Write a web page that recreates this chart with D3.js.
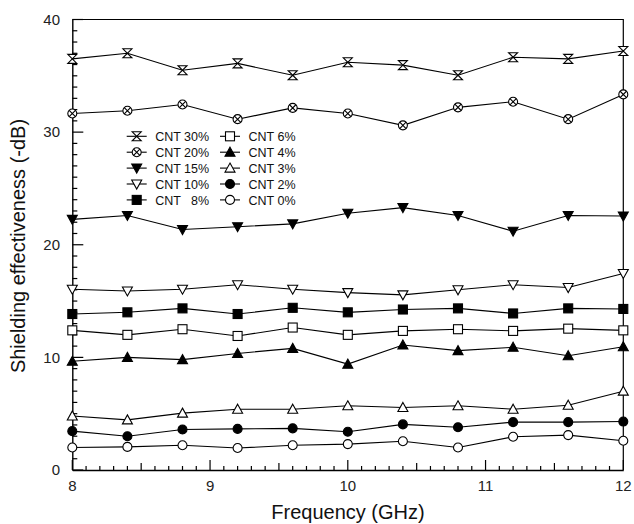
<!DOCTYPE html>
<html><head><meta charset="utf-8">
<script src="https://cdn.jsdelivr.net/npm/d3@7"></script>
<style>
html,body{margin:0;padding:0;background:#fff;}
svg{display:block;font-family:"Liberation Sans",Arial,sans-serif;}
</style></head>
<body><svg id="c" width="634" height="524"></svg>
<script>
const freq = [8, 8.4, 8.8, 9.2, 9.6, 10, 10.4, 10.8, 11.2, 11.6, 12];
const cnt30 = [36.5, 37.0, 35.5, 36.1, 35.05, 36.2, 35.95, 35.05, 36.65, 36.5, 37.2];
const cnt20 = [31.65, 31.9, 32.45, 31.15, 32.15, 31.65, 30.6, 32.2, 32.7, 31.15, 33.35];
const cnt15 = [22.25, 22.6, 21.35, 21.6, 21.85, 22.8, 23.3, 22.6, 21.2, 22.6, 22.55];
const cnt10 = [16.05, 15.9, 16.05, 16.45, 16.05, 15.75, 15.55, 16.0, 16.45, 16.2, 17.45];
const cnt8  = [13.85, 14.0, 14.35, 13.85, 14.4, 14.0, 14.25, 14.35, 13.9, 14.35, 14.3];
const cnt6  = [12.4, 12.0, 12.5, 11.9, 12.65, 12.0, 12.35, 12.5, 12.35, 12.55, 12.4];
const cnt4  = [9.65, 10.0, 9.8, 10.35, 10.8, 9.4, 11.1, 10.6, 10.9, 10.15, 10.95];
const cnt3  = [4.8, 4.45, 5.05, 5.4, 5.4, 5.7, 5.55, 5.7, 5.4, 5.75, 7.0];
const cnt2  = [3.45, 3.0, 3.6, 3.65, 3.7, 3.4, 4.05, 3.8, 4.25, 4.25, 4.3];
const cnt0  = [2.0, 2.05, 2.2, 1.95, 2.2, 2.3, 2.55, 2.0, 2.95, 3.1, 2.6];
const seriesNames = ["CNT 30%","CNT 20%","CNT 15%","CNT 10%","CNT   8%","CNT 6%","CNT 4%","CNT 3%","CNT 2%","CNT 0%"];
const seriesValues = [cnt30, cnt20, cnt15, cnt10, cnt8, cnt6, cnt4, cnt3, cnt2, cnt0];
const markerKinds = ["hourglass","circlex","tridownFilled","tridownOpen","squareFilled","squareOpen","triupFilled","triupOpen","circleFilled","circleOpen"];
const xTicks = [8, 9, 10, 11, 12];
const yTicks = [0, 10, 20, 30, 40];
const xTitle = "Frequency (GHz)";
const yTitle = "Shielding effectiveness (-dB)";

const svg = d3.select("#c");
const L = 72.3, R = 623.3, T = 19.5, B = 470;
const x = d3.scaleLinear().domain([8, 12]).range([L, R]);
const y = d3.scaleLinear().domain([0, 40]).range([B, T]);

// frame
svg.append("path").attr("d", `M${L},${T}H${R}V${B}`).attr("fill","none").attr("stroke","#000").attr("stroke-width",1.2);

// x axis
const xMinor = d3.range(80, 121).map(d => d/10);
const xAx = svg.append("g").attr("transform",`translate(0,${B})`);
xAx.call(d3.axisBottom(x).tickValues(xMinor).tickSize(0).tickFormat(""));
xAx.select(".domain").attr("stroke","#000").attr("stroke-width",1.4);
xAx.selectAll(".tick").remove();
xMinor.forEach(v => {
  const r = Math.round(v*10);
  const len = r % 10 === 0 ? 10 : (r % 5 === 0 ? 7 : 4);
  xAx.append("line").attr("x1", x(v)).attr("x2", x(v)).attr("y1", 0).attr("y2", -len).attr("stroke","#000").attr("stroke-width",1.2);
});
svg.append("g").selectAll("text").data(xTicks).join("text")
  .attr("x", d => x(d)).attr("y", 491).attr("text-anchor","middle")
  .attr("font-size", 15).attr("fill","#222").text(d => d);

// y axis
const yMinor = d3.range(0, 41);
const yAx = svg.append("g").attr("transform",`translate(${L},0)`);
yAx.call(d3.axisLeft(y).tickValues(yMinor).tickSize(0).tickFormat(""));
yAx.select(".domain").attr("stroke","#000").attr("stroke-width",1.4);
yAx.selectAll(".tick").remove();
yMinor.forEach(v => {
  const len = v % 10 === 0 ? 11 : 5;
  yAx.append("line").attr("x1", 0).attr("x2", len).attr("y1", y(v)).attr("y2", y(v)).attr("stroke","#000").attr("stroke-width",1.2);
});
svg.append("g").selectAll("text").data(yTicks).join("text")
  .attr("x", 60).attr("y", d => y(d) + 5.3).attr("text-anchor","end")
  .attr("font-size", 15).attr("fill","#222").text(d => d);

// titles
svg.append("text").attr("x", 348).attr("y", 519).attr("text-anchor","middle")
  .attr("font-size", 20).attr("fill","#111").text(xTitle);
svg.append("text").attr("transform","translate(25,246) rotate(-90)").attr("text-anchor","middle")
  .attr("font-size", 20).attr("fill","#111").text(yTitle);

// marker drawing
function drawMarker(g, kind, cx, cy) {
  const s = 4.5;
  const m = g.append("g").attr("transform", `translate(${cx},${cy})`);
  const st = sel => sel.attr("stroke","#000").attr("stroke-width",1.1);
  if (kind === "hourglass") {
    st(m.append("path").attr("d", `M${-s},${-s}H${s}L${-s},${s}H${s}Z`).attr("fill","#fff"));
  } else if (kind === "circlex") {
    st(m.append("circle").attr("r", s).attr("fill","#fff"));
    const k = s*0.7;
    st(m.append("path").attr("d", `M${-k},${-k}L${k},${k}M${-k},${k}L${k},${-k}`).attr("fill","none"));
  } else if (kind === "tridownFilled" || kind === "tridownOpen") {
    st(m.append("path").attr("d", `M${-5},${-4}H5L0,5Z`).attr("fill", kind === "tridownFilled" ? "#000" : "#fff"));
  } else if (kind === "triupFilled" || kind === "triupOpen") {
    st(m.append("path").attr("d", `M0,${-5}L5,4H-5Z`).attr("fill", kind === "triupFilled" ? "#000" : "#fff"));
  } else if (kind === "squareFilled" || kind === "squareOpen") {
    st(m.append("rect").attr("x", -s).attr("y", -s).attr("width", 2*s).attr("height", 2*s).attr("fill", kind === "squareFilled" ? "#000" : "#fff"));
  } else {
    st(m.append("circle").attr("r", s).attr("fill", kind === "circleFilled" ? "#000" : "#fff"));
  }
}

// series
const line = d3.line().x((d,i) => x(freq[i])).y(d => y(d));
const plot = svg.append("g");
seriesValues.forEach((vals, si) => {
  plot.append("path").attr("d", line(vals)).attr("fill","none").attr("stroke","#000").attr("stroke-width",1.1);
});
seriesValues.forEach((vals, si) => {
  vals.forEach((v, i) => drawMarker(plot, markerKinds[si], x(freq[i]), y(v)));
});

// legend
const leg = svg.append("g");
seriesNames.forEach((name, i) => {
  const col = Math.floor(i / 5), row = i % 5;
  const lx = col === 0 ? 126.7 : 220;
  const ly = 136.3 + row * 15.9;
  leg.append("line").attr("x1", lx).attr("x2", lx + 20).attr("y1", ly).attr("y2", ly).attr("stroke","#000").attr("stroke-width",1.1);
  drawMarker(leg, markerKinds[i], lx + 10, ly);
  leg.append("text").attr("x", lx + 28.5).attr("y", ly + 4.6)
    .attr("font-size", 12.5).attr("fill","#111").style("white-space","pre").text(name);
});
</script></body></html>
